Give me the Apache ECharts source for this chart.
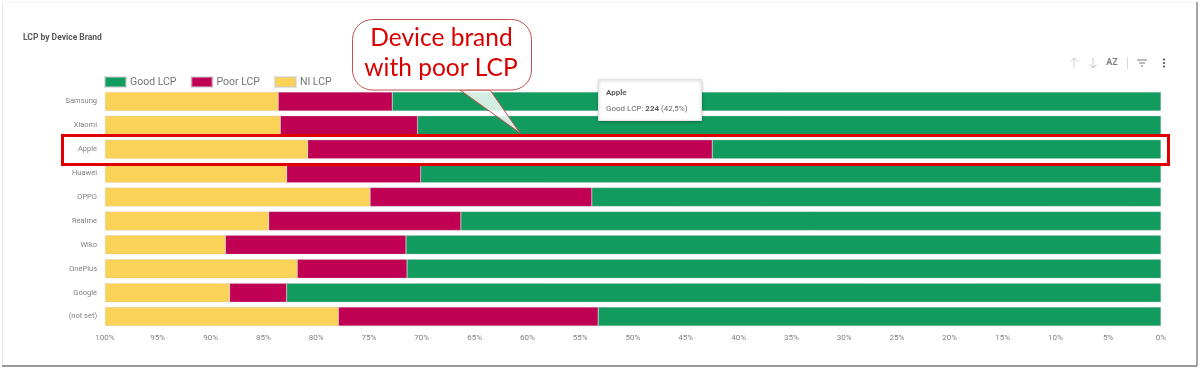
<!DOCTYPE html>
<html>
<head>
<meta charset="utf-8">
<style>html,body{margin:0;padding:0;background:#fff}#c{width:1200px;height:369px}</style>
<script src="https://cdn.jsdelivr.net/npm/echarts@6/dist/echarts.min.js"></script>
</head>
<body>
<div id="c"></div>
<script>
const brands = ['Samsung','Xiaomi','Apple','Huawei','OPPO','Realme','Wiko','OnePlus','Google','(not set)'];
const goodLCP = [72.8,70.4,42.5,70.1,53.9,66.3,71.5,71.4,82.8,53.3];
const poorLCP = [10.8,13.0,38.3,12.7,21.0,18.2,17.1,10.4,5.4,24.6];
const niLCP   = [16.4,16.6,19.2,17.2,25.1,15.5,11.4,18.2,11.8,22.1];

const chart = echarts.init(document.getElementById('c'), null, {renderer:'canvas'});
const FONT = 'Roboto';
const line = (x1,y1,x2,y2,stroke,lineWidth) => ({type:'line',silent:true,z:50,shape:{x1,y1,x2,y2},style:{stroke,lineWidth:lineWidth||1}});
const txt = (x,y,text,font,fill,extra) => ({type:'text',silent:true,z:60,x,y,style:Object.assign({text,font,fill,textVerticalAlign:'middle'},extra||{})});
const series = (name,data,color) => ({name,type:'bar',stack:'t',data,barWidth:19,itemStyle:{color,borderColor:'rgba(200,200,200,0.55)',borderWidth:0.5}});

chart.setOption({
  animation:false,
  backgroundColor:'#fff',
  title:{text:'LCP by Device Brand',left:18,top:28,textStyle:{fontFamily:FONT,fontSize:8.5,fontWeight:'bold',color:'#5a5a5a'}},
  legend:{left:99,top:71,itemWidth:21,itemHeight:10,itemGap:14,icon:'rect',
    data:['Good LCP','Poor LCP','NI LCP'],
    textStyle:{fontFamily:FONT,fontSize:10.5,color:'#757575',padding:[0,0,0,-1]}},
  grid:{left:105,right:39,top:89.5,height:239,containLabel:false},
  xAxis:{type:'value',inverse:true,min:0,max:100,interval:5,
    axisLine:{show:false},axisTick:{show:false},splitLine:{show:false},
    axisLabel:{formatter:'{value}%',fontFamily:FONT,fontSize:8,color:'#808080',margin:5,hideOverlap:false,showMinLabel:true,showMaxLabel:true}},
  yAxis:{type:'category',inverse:true,data:brands,
    axisLine:{show:false},axisTick:{show:false},splitLine:{show:false},
    axisLabel:{fontFamily:FONT,fontSize:7.5,color:'#808080',margin:8}},
  series:[series('Good LCP',goodLCP,'#129b5f'),series('Poor LCP',poorLCP,'#bf0053'),series('NI LCP',niLCP,'#fbd258')],
  graphic:{elements:[
    // card frame
    line(3,2,1197,2,'#f2f2f2',1), line(2.5,2,2.5,366,'#e6e6e6',1),
    line(1197,2,1197,366,'#8a8a8a',1.5), line(2,366,1197,366,'#777',1.5),
    // highlight box
    {type:'rect',silent:true,z:50,shape:{x:62.5,y:135.5,width:1106,height:29},style:{fill:'none',stroke:'#e00000',lineWidth:3}},
    // callout: pointer, body, then a white seam over the join
    {type:'polygon',silent:true,z:54,shape:{points:[[460,90],[520,133],[490,90]]},
      style:{fill:'rgba(255,255,255,0.82)',stroke:'#c0504d',lineWidth:1}},
    {type:'rect',silent:true,z:55,shape:{x:352.5,y:19.5,width:179,height:70.5,r:20},
      style:{fill:'#fff',stroke:'#c0504d',lineWidth:1}},
    line(461,90,489.5,90,'#fff',1.5),
    txt(441.5,38.5,'Device brand','24.5px Lato','#d80000',{textAlign:'center'}),
    txt(441,68.5,'with poor LCP','24.5px Lato','#d80000',{textAlign:'center'}),
    // tooltip
    {type:'rect',silent:true,z:55,shape:{x:598.5,y:79.5,width:103,height:41},
      style:{fill:'#fff',stroke:'#e2e2e2',lineWidth:1,shadowBlur:3,shadowColor:'rgba(0,0,0,0.25)',shadowOffsetY:1}},
    txt(606,92.5,'Apple','bold 8px Roboto','#5f5f5f'),
    {type:'text',silent:true,z:60,x:606,y:108.5,style:{
      text:'{a|Good LCP: }{b|224}{a| (42,5%)}',textVerticalAlign:'middle',
      rich:{a:{font:'8px Roboto',fill:'#6b6b6b'},b:{font:'bold 8px Roboto',fill:'#5f5f5f'}}}},
    // toolbar
    line(1074,58,1074,68,'#d0d0d0'), line(1070.5,61.5,1074,58,'#d0d0d0'), line(1077.5,61.5,1074,58,'#d0d0d0'),
    line(1093,58,1093,68,'#c4c4c4'), line(1089.5,64.5,1093,68,'#c4c4c4'), line(1096.5,64.5,1093,68,'#c4c4c4'),
    txt(1112,63,'AZ','bold 9px Roboto','#808080',{textAlign:'center'}),
    line(1127.5,57,1127.5,69,'#d8d8d8'),
    line(1137,60,1147,60,'#777'), line(1139,63,1145,63,'#777'), line(1141,66,1143,66,'#777'),
    {type:'circle',silent:true,z:50,shape:{cx:1164,cy:59.5,r:1.1},style:{fill:'#555'}},
    {type:'circle',silent:true,z:50,shape:{cx:1164,cy:63,r:1.1},style:{fill:'#555'}},
    {type:'circle',silent:true,z:50,shape:{cx:1164,cy:66.5,r:1.1},style:{fill:'#555'}}
  ]}
});
</script>
</body>
</html>
